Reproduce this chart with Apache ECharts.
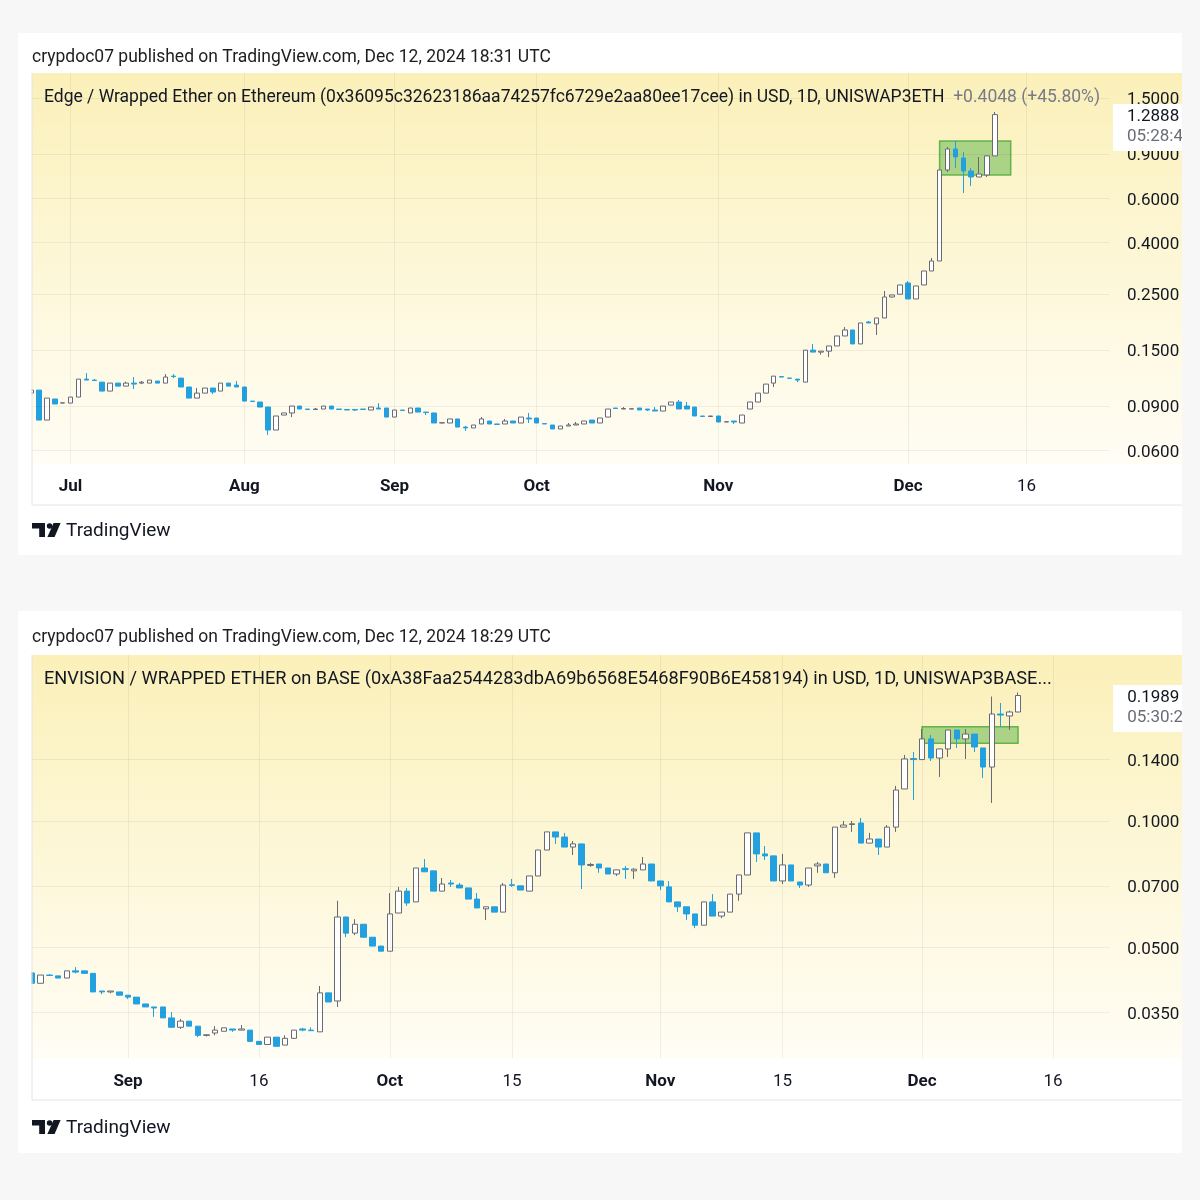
<!DOCTYPE html>
<html>
<head>
<meta charset="utf-8">
<title>Edge / ENVISION vs WETH</title>
<script src="https://cdn.jsdelivr.net/npm/echarts@6/dist/echarts.min.js"></script>
<style>
    html, body { margin: 0; padding: 0; background: #f7f7f7; }
    #chart { width: 1200px; height: 1200px; }
</style>
</head>
<body>
<div id="chart"></div>
<script>
// Edge / Wrapped Ether, daily bars (bars with no trades are skipped by the feed)
var topOpen = [.1013,.1041,.0792,.0960,.0925,.0925,.0977,.1151,.1141,.1120,.1032,.1110,.1080,.1110,.1110,.1110,.1131,.1110,.1183,.1162,
    .1071,.0968,.1013,.1061,.1032,.1110,.1090,.1071,.0942,.0934,.0892,.0723,.0829,.0845,.0900,.0876,.0872,.0876,.0900,.0876,
    .0872,.0872,.0876,.0868,.0884,.0884,.0814,.0868,.0845,.0884,.0852,.0845,.0771,.0771,.0800,.0743,.0737,.0764,.0785,.0764,
    .0764,.0785,.0771,.0807,.0807,.0767,.0757,.0730,.0750,.0757,.0764,.0792,.0771,.0814,.0884,.0876,.0876,.0884,.0876,.0868,
    .0860,.0908,.0934,.0900,.0892,.0822,.0818,.0822,.0778,.0785,.0771,.0876,.0934,.1013,.1110,.1178,.1162,.1151,.1120,.1500,
    .1473,.1486,.1558,.1707,.1803,.1587,.1940,.1905,.2012,.2437,.2500,.2770,.2393,.2720,.3090,.3386,.7773,.9415,.8673,.7701,
    .7291,.7425,.884];
var topClose = [.1041,.0792,.0968,.0917,.0927,.0977,.1151,.1141,.1136,.1032,.1110,.1080,.1110,.1100,.1120,.1141,.1110,.1173,.1178,.1071,
    .0968,.1013,.1061,.1023,.1110,.1080,.1071,.0942,.0938,.0892,.0723,.0822,.0845,.0900,.0876,.0872,.0876,.0900,.0876,.0872,
    .0868,.0868,.0872,.0892,.0876,.0814,.0868,.0864,.0884,.0852,.0848,.0771,.0773,.0800,.0743,.0737,.0757,.0800,.0764,.0761,
    .0785,.0771,.0814,.0800,.0771,.0764,.0730,.0750,.0757,.0764,.0785,.0771,.0807,.0876,.0880,.0880,.0878,.0868,.0868,.0860,
    .0900,.0934,.0876,.0876,.0822,.0818,.0822,.0778,.0780,.0778,.0829,.0934,.1013,.1100,.1183,.1173,.1160,.1141,.1500,.1473,
    .1486,.1558,.1707,.1803,.1587,.1922,.1922,.2012,.2437,.2482,.2720,.2393,.2695,.3090,.3386,.7773,.9415,.8752,.7701,.7291,
    .7493,.884,1.2888];
var topLow = [.1013,.0792,.0792,.0917,.0925,.0925,.0977,.1141,.1131,.1032,.1032,.1080,.1080,.1051,.1100,.1110,.1110,.1110,.1162,.1071,
    .0968,.0968,.1013,.1004,.1032,.1080,.1071,.0942,.0938,.0892,.0691,.0723,.0829,.0814,.0876,.0872,.0868,.0876,.0876,.0872,
    .0868,.0860,.0872,.0868,.0876,.0814,.0814,.0864,.0845,.0852,.0829,.0771,.0771,.0771,.0743,.0717,.0737,.0764,.0764,.0761,
    .0764,.0771,.0771,.0771,.0771,.0764,.0730,.0730,.0750,.0757,.0764,.0771,.0771,.0814,.0880,.0876,.0876,.0868,.0860,.0860,
    .0860,.0908,.0876,.0876,.0822,.0818,.0818,.0778,.0778,.0764,.0771,.0876,.0934,.1013,.1071,.1173,.1160,.1120,.1120,.1473,
    .1440,.1407,.1558,.1707,.1587,.1587,.1922,.1722,.2012,.2420,.2500,.2393,.2393,.2720,.3090,.3386,.7632,.7915,.6299,.6716,
    .7291,.7291,.884];
var topHigh = [.1041,.1041,.0968,.0960,.0927,.0977,.1151,.1216,.1151,.1120,.1110,.1110,.1125,.1173,.1131,.1141,.1131,.1205,.1205,.1162,
    .1071,.1061,.1061,.1061,.1110,.1110,.1131,.1071,.0942,.0934,.0892,.0822,.0845,.0900,.0900,.0876,.0884,.0900,.0900,.0876,
    .0872,.0872,.0876,.0892,.0925,.0884,.0868,.0868,.0884,.0884,.0852,.0845,.0773,.0800,.0800,.0750,.0757,.0814,.0785,.0764,
    .0800,.0785,.0814,.0845,.0807,.0767,.0757,.0750,.0771,.0778,.0785,.0792,.0807,.0876,.0884,.0892,.0878,.0884,.0876,.0892,
    .0900,.0934,.0951,.0934,.0892,.0822,.0822,.0822,.0780,.0785,.0829,.0934,.1013,.1100,.1183,.1178,.1162,.1151,.1500,.1587,
    .1486,.1558,.1707,.1853,.1803,.1922,.1957,.2012,.2574,.2482,.2720,.2820,.2695,.3090,.3480,.7773,.9589,1.0129,.9160,.7915,
    .8752,.884,1.320];
var topBarCount = 137;
var topTickIndex = [5, 27, 46, 64, 87, 111, 126];
var topTickText = ['Jul', 'Aug', 'Sep', 'Oct', 'Nov', 'Dec', '16'];
var topPriceTicks = [1.5, 0.9, 0.6, 0.4, 0.25, 0.15, 0.09, 0.06];
var topBoxX = [115, 124];
var topBoxY = [1.013, 0.7425];

// ENVISION / WRAPPED ETHER, daily bars from Aug 21
var botOpen = [.0435,.0411,.0430,.0428,.0423,.0440,.0440,.0434,.0394,.0392,.0392,.0385,.0381,.0367,.0361,.0361,.0340,.0323,.0334,.0325,
    .0309,.0313,.0316,.0320,.0318,.0318,.0299,.0294,.0306,.0293,.0304,.0320,.0318,.0315,.0390,.0373,.0591,.0541,.0568,.0529,
    .0504,.0490,.0604,.0681,.0642,.0773,.0761,.0681,.0712,.0704,.0693,.0652,.0618,.0625,.0607,.0705,.0701,.0681,.0740,.0853,
    .0942,.0916,.0867,.0882,.0784,.0790,.0773,.0748,.0770,.0761,.0765,.0790,.0720,.0697,.0642,.0625,.0601,.0565,.0642,.0594,
    .0607,.0670,.0744,.0937,.0835,.0826,.0720,.0786,.0716,.0704,.0782,.0790,.0753,.0967,.0981,.0989,.0886,.0906,.0867,.0967,
    .1192,.1408,.1400,.1568,.1412,.1484,.1646,.1568,.1610,.1492,.1344,.1797,.1778,.1817];
var botClose = [.0411,.0430,.0429,.0423,.0440,.0437,.0434,.0392,.0392,.0394,.0385,.0381,.0367,.0361,.0359,.0340,.0323,.0334,.0325,.0309,
    .0310,.0318,.0322,.0318,.0320,.0299,.0294,.0306,.0291,.0304,.0318,.0318,.0317,.0390,.0371,.0591,.0541,.0568,.0529,.0504,
    .0490,.0601,.0681,.0638,.0773,.0757,.0681,.0708,.0708,.0693,.0652,.0621,.0625,.0607,.0704,.0703,.0685,.0740,.0853,.0942,
    .0916,.0867,.0882,.0786,.0788,.0773,.0748,.0765,.0767,.0768,.0790,.0720,.0701,.0642,.0625,.0601,.0565,.0642,.0594,.0607,
    .0670,.0744,.0937,.0835,.0826,.0720,.0786,.0720,.0704,.0773,.0790,.0753,.0967,.0978,.0985,.0886,.0906,.0867,.0967,.1185,
    .1405,.1400,.1568,.1412,.1484,.1646,.1568,.1610,.1500,.1344,.1797,.1787,.1817,.1989];
var botLow = [.0411,.0411,.0429,.0423,.0423,.0434,.0434,.0392,.0387,.0389,.0385,.0377,.0367,.0361,.0342,.0340,.0323,.0320,.0325,.0306,
    .0307,.0309,.0316,.0315,.0318,.0299,.0294,.0294,.0291,.0293,.0303,.0316,.0317,.0315,.0371,.0361,.0529,.0535,.0529,.0504,
    .0490,.0490,.0604,.0628,.0642,.0757,.0681,.0681,.0697,.0693,.0652,.0621,.0581,.0607,.0607,.0697,.0685,.0681,.0740,.0853,
    .0882,.0867,.0830,.0689,.0778,.0753,.0748,.0740,.0728,.0728,.0765,.0720,.0685,.0642,.0607,.0581,.0556,.0565,.0594,.0587,
    .0607,.0646,.0744,.0799,.0808,.0720,.0708,.0720,.0693,.0697,.0753,.0753,.0732,.0967,.0942,.0886,.0886,.0830,.0867,.0942,
    .1192,.1122,.1400,.1389,.1273,.1420,.1492,.1405,.1460,.1266,.1104,.1673,.1646,.1817];
var botHigh = [.0435,.0430,.0432,.0428,.0440,.0449,.0440,.0434,.0394,.0394,.0392,.0385,.0381,.0367,.0361,.0361,.0351,.0338,.0334,.0325,
    .0310,.0325,.0322,.0320,.0327,.0318,.0299,.0306,.0306,.0309,.0318,.0322,.0323,.0405,.0390,.0646,.0591,.0584,.0568,.0529,
    .0504,.0674,.0697,.0693,.0773,.0812,.0761,.0732,.0724,.0712,.0693,.0674,.0625,.0625,.0712,.0728,.0701,.0740,.0853,.0942,
    .0942,.0937,.0896,.0882,.0795,.0790,.0773,.0765,.0782,.0772,.0821,.0790,.0720,.0720,.0642,.0625,.0601,.0642,.0670,.0607,
    .0670,.0744,.0937,.0937,.0872,.0826,.0835,.0786,.0716,.0773,.0799,.0790,.0967,.1000,.1000,.1017,.0937,.0906,.0978,.1212,
    .1436,.1460,.1655,.1602,.1484,.1646,.1646,.1655,.1610,.1492,.1978,.1909,.1830,.2022];
var botBarCount = 124;
var botTickIndex = [11, 26, 41, 55, 72, 86, 102, 117];
var botTickText = ['Sep', '16', 'Oct', '15', 'Nov', '15', 'Dec', '16'];
var botPriceTicks = [0.14, 0.10, 0.07, 0.05, 0.035];
var botBoxX = [102, 113];
var botBoxY = [0.1677, 0.1531];

var topCountdown = '05:28:4';
var botCountdown = '05:30:2';

var upColor = '#ffffff';
var upBorder = '#676a74';
var downColor = '#22a0e0';
var gridColor = 'rgba(60,60,40,0.07)';
var textColor = '#131722';
var font = 'Roboto';

var chart = echarts.init(document.getElementById('chart'));

var buildCategories = function(count) {
    var list = [];
    for (var i = 0; i < count; i++) {
        list.push(String(i));
    }
    return list;
};

var buildCandles = function(open, close, low, high) {
    return open.map(function(o, i) {
        return [o, close[i], low[i], high[i]];
    });
};

var xAxisFor = function(gridIndex, count, tickIndex, tickText, margin) {
    return {
        type: 'category',
        gridIndex: gridIndex,
        data: buildCategories(count),
        boundaryGap: true,
        axisLine: { show: false },
        axisTick: { show: false },
        splitLine: { show: false },
        axisLabel: {
            margin: margin,
            interval: function(index) {
                return tickIndex.indexOf(index) >= 0;
            },
            formatter: function(value) {
                var k = tickIndex.indexOf(parseInt(value, 10));
                if (k < 0) return '';
                var text = tickText[k];
                return /^\d+$/.test(text) ? '{d|' + text + '}' : '{m|' + text + '}';
            },
            rich: {
                m: { fontFamily: font, fontSize: 17, fontWeight: 'bold', color: textColor },
                d: { fontFamily: font, fontSize: 17, color: textColor }
            }
        }
    };
};

var yAxisFor = function(gridIndex, min, max) {
    return {
        type: 'log',
        logBase: 10,
        gridIndex: gridIndex,
        position: 'right',
        min: min,
        max: max,
        axisLine: { show: false },
        axisTick: { show: false },
        axisLabel: { show: false },
        splitLine: { show: false }
    };
};

// grid lines + price scale labels, drawn as markLines under the candles
var gridSeries = function(index, tickIndex, priceTicks) {
    var lines = [];
    tickIndex.forEach(function(t) {
        lines.push({ xAxis: t, label: { show: false } });
    });
    priceTicks.forEach(function(p) {
        lines.push({ yAxis: p });
    });
    return {
        type: 'scatter',
        xAxisIndex: index,
        yAxisIndex: index,
        data: [],
        z: 1,
        silent: true,
        markLine: {
            silent: true,
            animation: false,
            precision: 4,
            symbol: ['none', 'none'],
            lineStyle: { color: gridColor, width: 1, type: 'solid' },
            label: {
                position: 'end',
                distance: 17.5,
                offset: [0, 2],
                color: textColor,
                fontFamily: font,
                fontSize: 17,
                formatter: function(p) {
                    return Number(p.value).toFixed(4);
                }
            },
            data: lines
        }
    };
};

var candleSeries = function(index, data, barWidth, boxX, boxY) {
    return {
        type: 'candlestick',
        xAxisIndex: index,
        yAxisIndex: index,
        data: data,
        barWidth: barWidth,
        z: 2,
        clip: true,
        itemStyle: {
            color: upColor,
            borderColor: upBorder,
            color0: downColor,
            borderColor0: downColor,
            borderWidth: 1
        },
        markArea: {
            silent: true,
            itemStyle: {
                color: 'rgba(90,180,70,0.5)',
                borderColor: 'rgba(80,170,60,0.85)',
                borderWidth: 1.5
            },
            data: [[{ xAxis: boxX[0], yAxis: boxY[0] }, { xAxis: boxX[1], yAxis: boxY[1] }]]
        }
    };
};

var priceSeries = function(index, price, countdown) {
    return {
        type: 'scatter',
        xAxisIndex: index,
        yAxisIndex: index,
        data: [],
        z: 5,
        silent: true,
        markLine: {
            silent: true,
            animation: false,
            precision: 4,
            symbol: ['none', 'none'],
            lineStyle: { width: 0, color: 'rgba(0,0,0,0)' },
            label: {
                show: true,
                position: 'end',
                distance: 3.5,
                offset: [0, 13],
                backgroundColor: '#ffffff',
                padding: [3, 20, 4, 14],
                formatter: '{a|' + price.toFixed(4) + '}\n{b|' + countdown + '}',
                rich: {
                    a: { fontFamily: font, fontSize: 17, color: textColor, lineHeight: 20 },
                    b: { fontFamily: font, fontSize: 17, color: '#6a6d78', lineHeight: 20 }
                }
            },
            data: [{ yAxis: price }]
        }
    };
};

var yellow = function(y, h) {
    return {
        type: 'rect', z: -10,
        shape: { x: 32, y: y, width: 1150, height: h },
        style: {
            fill: {
                type: 'linear', x: 0, y: 0, x2: 0, y2: 1,
                colorStops: [{ offset: 0, color: '#fbf0b9' }, { offset: 0.5, color: '#fdf7d8' }, { offset: 1, color: '#fffdf5' }]
            }
        }
    };
};

var logo = function(dy) {
    return [
        { type: 'polygon', z: 20, shape: { points: [[32, 523 + dy], [45, 523 + dy], [45, 537 + dy], [39.2, 537 + dy], [39.2, 528.5 + dy], [32, 528.5 + dy]] }, style: { fill: textColor } },
        { type: 'circle', z: 20, shape: { cx: 49.6, cy: 526 + dy, r: 2.8 }, style: { fill: textColor } },
        { type: 'polygon', z: 20, shape: { points: [[53.6, 523 + dy], [60.6, 523 + dy], [54.6, 537 + dy], [47.4, 537 + dy]] }, style: { fill: textColor } },
        { type: 'text', z: 20, x: 66, y: 531 + dy, style: { text: 'TradingView', font: '19px Roboto', fill: textColor, verticalAlign: 'middle' } }
    ];
};

var frame = function(y1, y2) {
    return [
        { type: 'rect', z: 15, shape: { x: 18, y: y1, width: 13.5, height: y2 - y1 }, style: { fill: '#ffffff' } },
        { type: 'line', z: 16, shape: { x1: 32, y1: y1, x2: 32, y2: y2 }, style: { stroke: '#e4e4e4', lineWidth: 1 } },
        { type: 'line', z: 16, shape: { x1: 32, y1: y2, x2: 1182, y2: y2 }, style: { stroke: '#e4e4e4', lineWidth: 1 } }
    ];
};

var header = function(y, text) {
    return { type: 'text', z: 20, x: 32, y: y, style: { text: text, font: '17.5px Roboto', fill: '#1e1e1e', verticalAlign: 'middle' } };
};

var title = function(y, main, change, size) {
    return {
        type: 'text', z: 20, x: 44, y: y,
        style: {
            text: '{a|' + main + '}' + (change ? '{b|  ' + change + '}' : ''),
            verticalAlign: 'middle',
            rich: {
                a: { fontFamily: font, fontSize: size, fill: textColor },
                b: { fontFamily: font, fontSize: size, fill: '#787b86' }
            }
        }
    };
};

var topChange = (topClose[topClose.length - 1] - topClose[topClose.length - 2]);
var topChangeText = '+' + topChange.toFixed(4) + ' (+45.80%)';

var graphics = [
    { type: 'rect', z: -20, shape: { x: 18, y: 33, width: 1164, height: 522 }, style: { fill: '#ffffff' } },
    { type: 'rect', z: -20, shape: { x: 18, y: 611, width: 1164, height: 542 }, style: { fill: '#ffffff' } },
    yellow(73, 391),
    yellow(655, 403.5),
    header(58, 'crypdoc07 published on TradingView.com, Dec 12, 2024 18:31 UTC'),
    header(638, 'crypdoc07 published on TradingView.com, Dec 12, 2024 18:29 UTC'),
    title(98, 'Edge / Wrapped Ether on Ethereum (0x36095c32623186aa74257fc6729e2aa80ee17cee) in USD, 1D, UNISWAP3ETH', topChangeText, 17.5),
    title(679, 'ENVISION / WRAPPED ETHER on BASE (0xA38Faa2544283dbA69b6568E5468F90B6E458194) in USD, 1D, UNISWAP3BASE...', '', 18.2),
    { type: 'rect', z: 30, shape: { x: 1182, y: 0, width: 18, height: 1200 }, style: { fill: '#f7f7f7' } }
].concat(frame(73, 505), frame(655, 1100), logo(0), logo(597));

var option = {
    backgroundColor: '#f7f7f7',
    animation: false,
    textStyle: { fontFamily: font },
    grid: [
        { left: 27.15, top: 73, width: topBarCount * 7.9, height: 391, containLabel: false },
        { left: 27.64, top: 655, width: botBarCount * 8.726, height: 403.5, containLabel: false }
    ],
    xAxis: [
        xAxisFor(0, topBarCount, topTickIndex, topTickText, 14),
        xAxisFor(1, botBarCount, botTickIndex, botTickText, 15)
    ],
    yAxis: [
        yAxisFor(0, 0.05302, 1.8847),
        yAxisFor(1, 0.02722, 0.2483)
    ],
    graphic: graphics,
    series: [
        gridSeries(0, topTickIndex, topPriceTicks),
        candleSeries(0, buildCandles(topOpen, topClose, topLow, topHigh), 5, topBoxX, topBoxY),
        priceSeries(0, topClose[topClose.length - 1], topCountdown),
        gridSeries(1, botTickIndex, botPriceTicks),
        candleSeries(1, buildCandles(botOpen, botClose, botLow, botHigh), 6, botBoxX, botBoxY),
        priceSeries(1, botClose[botClose.length - 1], botCountdown)
    ]
};

chart.setOption(option);
</script>
</body>
</html>
